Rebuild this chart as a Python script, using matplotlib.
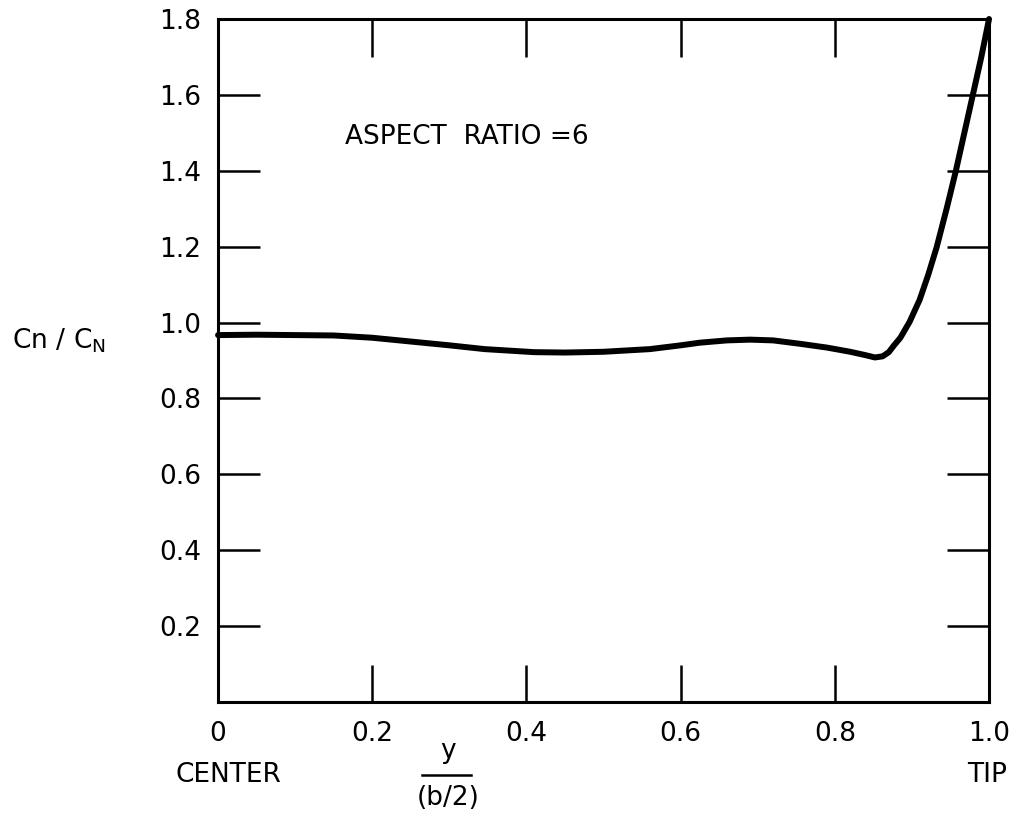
import matplotlib

matplotlib.use("Agg")

import matplotlib.pyplot as plt  # noqa: E402
from matplotlib.lines import Line2D  # noqa: E402

# spanwise station y/(b/2) and normal-force ratio
span_station = [0.00, 0.05, 0.10, 0.15, 0.20, 0.26, 0.30, 0.346, 0.41, 0.45,
                0.50, 0.56, 0.60, 0.625, 0.66, 0.69, 0.72, 0.755, 0.79, 0.82,
                0.84, 0.852, 0.862, 0.870, 0.876, 0.885, 0.897, 0.910, 0.921,
                0.932, 0.945, 0.957, 0.968, 0.979, 0.990, 1.000]
cn_ratio = [0.967, 0.968, 0.967, 0.966, 0.960, 0.948, 0.940, 0.930, 0.922, 0.921,
            0.923, 0.930, 0.940, 0.947, 0.953, 0.955, 0.953, 0.944, 0.934, 0.923,
            0.914, 0.908, 0.911, 0.922, 0.938, 0.960, 1.002, 1.060, 1.125,
            1.198, 1.300, 1.400, 1.500, 1.600, 1.700, 1.800]

x_ticks = [0.0, 0.2, 0.4, 0.6, 0.8, 1.0]
x_ticklabels = ["0", "0.2", "0.4", "0.6", "0.8", "1.0"]
y_ticks = [0.2, 0.4, 0.6, 0.8, 1.0, 1.2, 1.4, 1.6, 1.8]
y_ticklabels = ["0.2", "0.4", "0.6", "0.8", "1.0", "1.2", "1.4", "1.6", "1.8"]

plt.rcParams.update({
    "font.family": ["DejaVu Sans"],
    "font.size": 19,
})

fig = plt.figure(figsize=(10.17, 8.16), dpi=100)
ax = fig.add_axes([0.2144, 0.1397, 0.7581, 0.8370])

ax.plot(span_station, cn_ratio, color="black", lw=4.3,
        solid_capstyle="round", solid_joinstyle="round", clip_on=False)

ax.set_xlim(0, 1.0)
ax.set_ylim(0, 1.8)

for side in ["top", "bottom", "left", "right"]:
    ax.spines[side].set_linewidth(2.2)

ax.set_xticks(x_ticks)
ax.set_xticklabels(x_ticklabels)
ax.set_yticks(y_ticks)
ax.set_yticklabels(y_ticklabels)
ax.tick_params(axis="x", direction="in", length=27, width=1.8,
               top=True, bottom=True, pad=14, labelsize=19)
ax.tick_params(axis="y", direction="in", length=30, width=1.8,
               left=True, right=True, pad=12, labelsize=19)

ax.text(0.165, 1.49, "ASPECT  RATIO =6", fontsize=19, va="center", ha="left")

# axis labels, placed in axes-fraction coordinates like the hand lettering
ax.text(0.013, -0.107, "CENTER", transform=ax.transAxes,
        ha="center", va="center", fontsize=19)
ax.text(0.997, -0.107, "TIP", transform=ax.transAxes,
        ha="center", va="center", fontsize=19)
ax.text(0.298, -0.072, "y", transform=ax.transAxes,
        ha="center", va="center", fontsize=19)
ax.add_line(Line2D([0.265, 0.328], [-0.1065, -0.1065], transform=ax.transAxes,
                   color="black", lw=1.8, clip_on=False))
ax.text(0.298, -0.140, "(b/2)", transform=ax.transAxes,
        ha="center", va="center", fontsize=19)

fig.text(0.012, 0.583, r"$\mathregular{Cn\ /\ C_N}$", ha="left", va="center",
         fontsize=19)

fig.savefig("out.png", dpi=100)
